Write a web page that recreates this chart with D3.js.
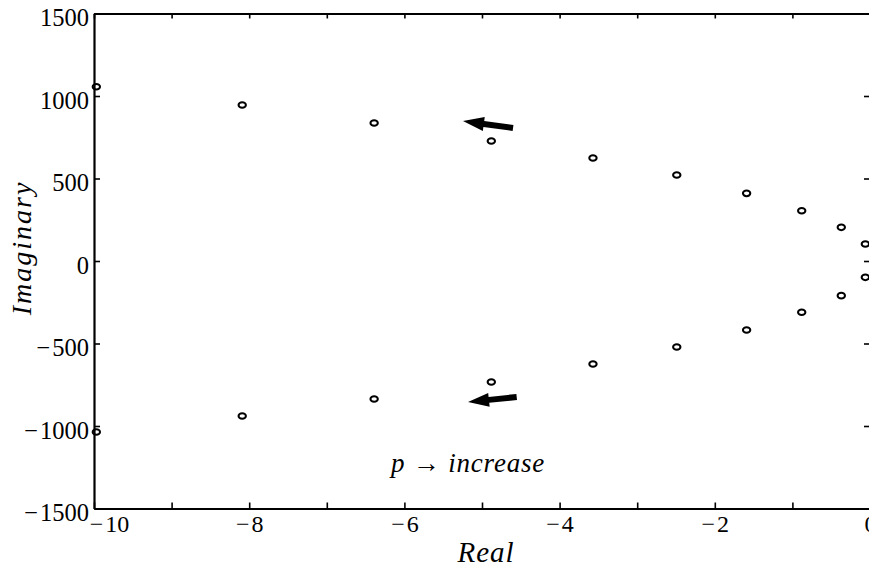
<!DOCTYPE html>
<html>
<head>
<meta charset="utf-8">
<script src="https://cdn.jsdelivr.net/npm/d3@7"></script>
<style>
  body { margin: 0; background: #fff; }
  svg { display: block; }
  .axis text { font-family: "Liberation Serif", "DejaVu Serif", serif; fill: #000; }
</style>
</head>
<body>
<svg width="869" height="569"></svg>
<script>
// pole locations (real part, imaginary part)
const realUpper = [-9.97, -8.09, -6.39, -4.88, -3.57, -2.49, -1.59, -0.88, -0.37, -0.06];
const imagUpper = [1056, 945, 836, 727, 624, 521, 410, 305, 204, 103];
const realLower = [-0.06, -0.37, -0.88, -1.59, -2.49, -3.57, -4.88, -6.39, -8.09, -9.97];
const imagLower = [-99, -210, -311, -418, -521, -624, -733, -836, -939, -1036];

// arrows: [tail real, tail imag, tip real, tip imag]
const arrows = [
  [-4.60, 806, -5.245, 848],
  [-4.553, -824, -5.18, -855],
];

const xTicks = d3.range(-10, 1, 1);
const yTicks = [-1500, -1000, -500, 0, 500, 1000, 1500];

const svg = d3.select("svg");
const plotLeft = 94, plotRight = 870, plotTop = 13.5, plotBottom = 508.5;

const x = d3.scaleLinear().domain([-10, 0]).range([plotLeft, plotRight]);
const y = d3.scaleLinear().domain([-1500, 1500]).range([plotBottom, plotTop]);

const points = realUpper.map((r, i) => ({ re: r, im: imagUpper[i] }))
  .concat(realLower.map((r, i) => ({ re: r, im: imagLower[i] })));

// minus sign with a small gap, like the TeX labels
const fmt = (d) => (d < 0 ? "\u2212\u200a" + Math.abs(d) : String(d));

//bottom axis with labels on even numbers
const xAxis = svg.append("g").attr("class", "axis")
  .attr("transform", `translate(0,${plotBottom})`)
  .call(d3.axisBottom(x).tickValues(xTicks).tickSizeInner(-6).tickSizeOuter(0).tickPadding(6)
    .tickFormat((d) => (d % 2 === 0 ? fmt(d) : "")));
xAxis.selectAll("text").attr("font-size", 24).attr("dy", "0.74em");
xAxis.selectAll("text").filter((d) => d === -10).attr("dx", 15);

//top axis ticks only
svg.append("g").attr("class", "axis")
  .attr("transform", `translate(0,${plotTop})`)
  .call(d3.axisBottom(x).tickValues(xTicks).tickSizeInner(5).tickSizeOuter(0).tickFormat(""));

//left axis
const yAxis = svg.append("g").attr("class", "axis")
  .attr("transform", `translate(${plotLeft},0)`)
  .call(d3.axisLeft(y).tickValues(yTicks).tickSizeInner(-6).tickSizeOuter(0).tickPadding(5)
    .tickFormat(fmt));
yAxis.selectAll("text").attr("font-size", 24.5).attr("dy", "0.5em");

//right axis ticks only
svg.append("g").attr("class", "axis")
  .attr("transform", `translate(${plotRight},0)`)
  .call(d3.axisRight(y).tickValues(yTicks).tickSizeInner(-6).tickSizeOuter(0).tickFormat(""));

svg.selectAll(".axis .domain").attr("stroke", "#000").attr("stroke-width", 2.2);
svg.selectAll(".axis .tick line").attr("stroke", "#000").attr("stroke-width", 1.6);

//pole markers
svg.append("g")
  .selectAll("ellipse")
  .data(points)
  .enter()
  .append("ellipse")
  .attr("cx", (d) => x(d.re))
  .attr("cy", (d) => y(d.im))
  .attr("rx", 3.7)
  .attr("ry", 2.8)
  .attr("fill", "none")
  .attr("stroke", "#000")
  .attr("stroke-width", 2);

//arrows showing direction of p increase
const arrowPath = (a) => {
  const x0 = x(a[0]), y0 = y(a[1]), x1 = x(a[2]), y1 = y(a[3]);
  const len = Math.hypot(x1 - x0, y1 - y0);
  const ux = (x1 - x0) / len, uy = (y1 - y0) / len;
  const nx = -uy, ny = ux;
  const headLen = 21, headW = 7, shaftW = 3;
  const bx = x1 - ux * headLen, by = y1 - uy * headLen;
  const p = [
    [x0 + nx * shaftW, y0 + ny * shaftW],
    [bx + nx * shaftW, by + ny * shaftW],
    [bx + nx * headW, by + ny * headW],
    [x1, y1],
    [bx - nx * headW, by - ny * headW],
    [bx - nx * shaftW, by - ny * shaftW],
    [x0 - nx * shaftW, y0 - ny * shaftW],
  ];
  return "M" + p.map((q) => q.join(",")).join("L") + "Z";
};
svg.append("g")
  .selectAll("path")
  .data(arrows)
  .enter()
  .append("path")
  .attr("d", arrowPath)
  .attr("fill", "#000");

//annotation
const note = svg.append("text")
  .attr("x", 391)
  .attr("y", 472)
  .attr("font-family", "Liberation Serif, DejaVu Serif, serif")
  .attr("font-size", 27)
  .attr("font-style", "italic")
  .attr("letter-spacing", 0.8);
note.append("tspan").text("p");
note.append("tspan").attr("font-style", "normal").text(" \u2192 ");
note.append("tspan").text("increase");

//axis titles
svg.append("text")
  .attr("x", 486)
  .attr("y", 562)
  .attr("text-anchor", "middle")
  .attr("font-family", "Liberation Serif, DejaVu Serif, serif")
  .attr("font-size", 29)
  .attr("font-style", "italic")
  .attr("letter-spacing", 1)
  .text("Real");

svg.append("text")
  .attr("transform", "translate(31,248) rotate(-90)")
  .attr("text-anchor", "middle")
  .attr("font-family", "Liberation Serif, DejaVu Serif, serif")
  .attr("font-size", 28)
  .attr("font-style", "italic")
  .attr("letter-spacing", 2)
  .text("Imaginary");
</script>
</body>
</html>
